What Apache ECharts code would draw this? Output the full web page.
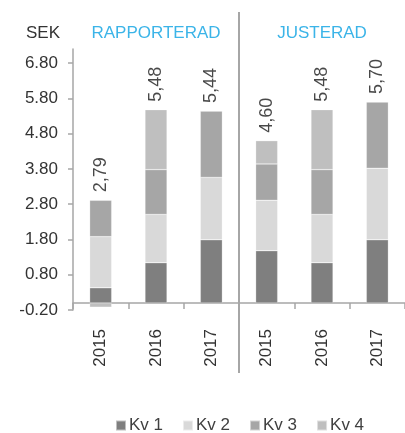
<!DOCTYPE html>
<html>
<head>
<meta charset="utf-8">
<script src="https://cdn.jsdelivr.net/npm/echarts@6/dist/echarts.min.js"></script>
<style>
html,body{margin:0;padding:0;background:#fff;}
#chart{width:405px;height:433px;}
</style>
</head>
<body>
<div id="chart"></div>
<script>
var categories = ["2015", "2016", "2017", "2015", "2016", "2017"];
var groupTitles = ["RAPPORTERAD", "JUSTERAD"];
var unitLabel = "SEK";
var kv1 = [0.43, 1.14, 1.79, 1.48, 1.14, 1.79];
var kv2 = [1.45, 1.37, 1.77, 1.43, 1.37, 2.03];
var kv3 = [1.03, 1.27, 1.88, 1.03, 1.27, 1.88];
var kv4 = [-0.12, 1.70, 0, 0.66, 1.70, 0];
var totals = [2.79, 5.48, 5.44, 4.60, 5.48, 5.70];
var seriesNames = ["Kv 1", "Kv 2", "Kv 3", "Kv 4"];
var colors = ["#7f7f7f", "#d9d9d9", "#a6a6a6", "#bfbfbf"];

var FONT = "'Liberation Sans', Arial, sans-serif";
var chart = echarts.init(document.getElementById('chart'), null, {renderer: 'canvas'});

var allSeries = [kv1, kv2, kv3, kv4];
var positiveTop = categories.map(function (c, i) {
  var s = 0;
  allSeries.forEach(function (arr) { if (arr[i] > 0) s += arr[i]; });
  return s;
});

var barSeries = allSeries.map(function (arr, k) {
  return {
    name: seriesNames[k],
    type: 'bar',
    stack: 'q',
    barWidth: 22,
    data: arr,
    itemStyle: {color: colors[k], borderColor: 'rgba(255,255,255,0.5)', borderWidth: 0.5},
    emphasis: {disabled: true},
    silent: true
  };
});

barSeries.push({
  name: 'total',
  type: 'scatter',
  symbolSize: 0,
  data: positiveTop.map(function (v, i) { return {value: v, total: totals[i]}; }),
  label: {
    show: true,
    position: 'top',
    distance: 8,
    rotate: 90,
    align: 'left',
    verticalAlign: 'middle',
    color: '#1a1a1a',
    fontFamily: FONT,
    fontSize: 18,
    formatter: function (p) { return totals[p.dataIndex].toFixed(2).replace('.', ','); }
  },
  silent: true,
  z: 5
});

var option = {
  animation: false,
  textStyle: {fontFamily: FONT},
  grid: {left: 73, right: -5, top: 49, bottom: 123, containLabel: false},
  legend: {
    data: seriesNames,
    left: 115,
    top: 417,
    padding: 0,
    icon: 'rect',
    itemWidth: 10,
    itemHeight: 10,
    itemGap: 19,
    textStyle: {color: '#404040', fontSize: 17, fontFamily: FONT, padding: [0, 0, 0, -2]}
  },
  xAxis: {
    type: 'category',
    data: categories,
    axisLine: {show: true, onZero: true, lineStyle: {color: '#a6a6a6', width: 1.5}},
    axisTick: {show: true, length: 6, lineStyle: {color: '#a6a6a6', width: 1.5}},
    axisLabel: {rotate: 90, margin: 19, color: '#333333', fontSize: 17, fontFamily: FONT}
  },
  yAxis: {
    type: 'value',
    min: -0.2,
    max: 7.2,
    interval: 1,
    splitLine: {show: false},
    axisLine: {show: true, lineStyle: {color: '#a6a6a6', width: 1.5}},
    axisTick: {show: true, length: 5, lineStyle: {color: '#a6a6a6', width: 1.5}},
    axisLabel: {
      showMaxLabel: false,
      margin: 15,
      color: '#333333',
      fontSize: 17,
      fontFamily: FONT,
      formatter: function (v) { return v > 7 ? '' : v.toFixed(2); }
    }
  },
  series: barSeries
};
chart.setOption(option);

var xSep = (chart.convertToPixel({xAxisIndex: 0}, 2) + chart.convertToPixel({xAxisIndex: 0}, 3)) / 2;
var xG1 = (chart.convertToPixel({xAxisIndex: 0}, 0) + chart.convertToPixel({xAxisIndex: 0}, 2)) / 2;
var xG2 = (chart.convertToPixel({xAxisIndex: 0}, 3) + chart.convertToPixel({xAxisIndex: 0}, 5)) / 2;

chart.setOption({
  graphic: [
    {type: 'line', shape: {x1: xSep, y1: 12, x2: xSep, y2: 373}, style: {stroke: '#a6a6a6', lineWidth: 2}, silent: true},
    {type: 'text', x: 43, y: 33, style: {text: unitLabel, textAlign: 'center', textVerticalAlign: 'middle', fill: '#333333', font: '17px ' + FONT}},
    {type: 'text', x: xG1, y: 33, style: {text: groupTitles[0], textAlign: 'center', textVerticalAlign: 'middle', fill: '#3bb4e8', font: '17px ' + FONT}},
    {type: 'text', x: xG2, y: 33, style: {text: groupTitles[1], textAlign: 'center', textVerticalAlign: 'middle', fill: '#3bb4e8', font: '17px ' + FONT}}
  ]
});
</script>
</body>
</html>
